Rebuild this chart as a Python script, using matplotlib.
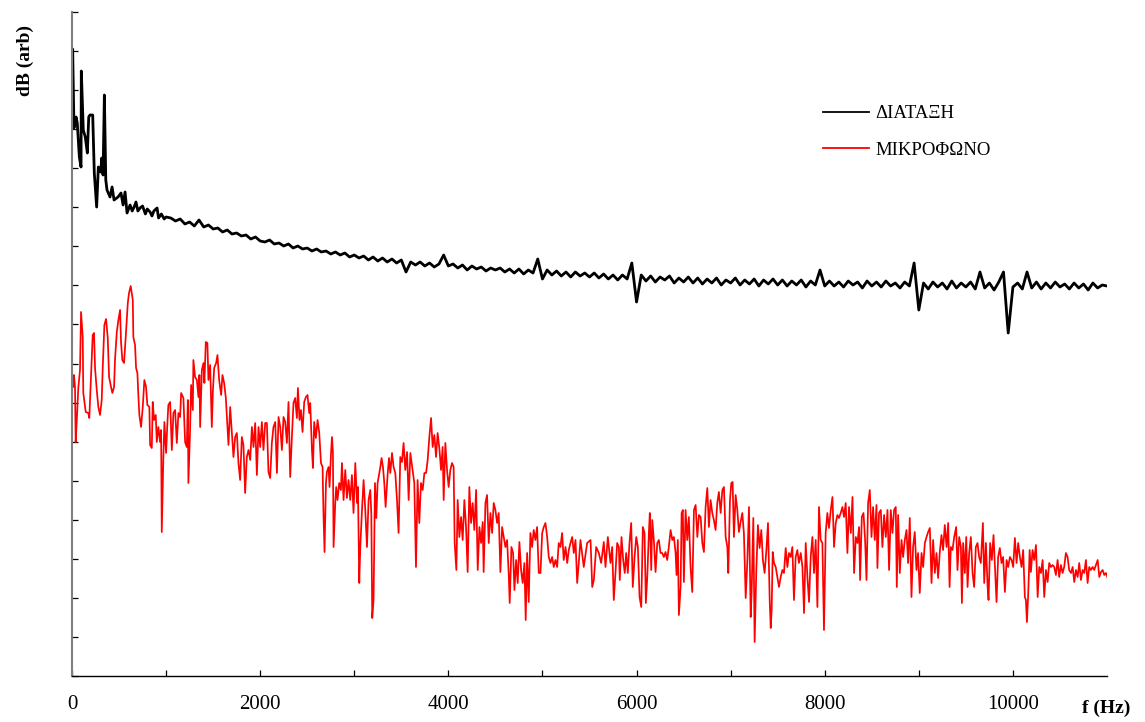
import matplotlib
matplotlib.use("Agg")
import matplotlib.pyplot as plt
import numpy as np

# ---------------- data ----------------
legend_labels = ["ΔΙΑΤΑΞΗ", "ΜΙΚΡΟΦΩΝΟ"]
x_ticks = [0, 2000, 4000, 6000, 8000, 10000]
x_label = "f (Hz)"
y_label = "dB (arb)"

black_freq_low = [0, 7, 14, 21, 43, 56, 67, 78, 96, 99, 120, 141, 163, 178, 191,
                  220, 237, 262, 280, 305, 316, 330, 344, 359, 372, 404, 426, 447,
                  489, 521, 543, 564, 585, 617, 640, 660, 680, 700, 723, 750, 780,
                  800, 830, 850, 870, 904, 920, 950, 980, 1000]
black_db_low = [586, 627, 586, 548, 559, 553, 536, 519, 509, 605, 546, 539, 523, 559, 561,
                561, 503, 469, 509, 504, 518, 501, 581, 496, 486, 479, 489, 476,
                479, 483, 471, 484, 463, 471, 465, 469, 474, 465, 468, 470, 462,
                467, 464, 460, 465, 468, 458, 462, 457, 459]
black_freq_high = list(range(1050, 11001, 50))
black_db_high = [
    458, 455, 457, 452, 454, 450, 456, 449, 451, 447,
    448, 444, 446, 442, 443, 440, 441, 437, 439, 435,
    434, 436, 432, 433, 430, 432, 428, 430, 427, 428,
    425, 427, 424, 425, 422, 424, 421, 423, 419, 421,
    418, 420, 416, 419, 415, 418, 414, 417, 413, 416,
    404, 414, 411, 414, 410, 413, 409, 412, 421, 410,
    412, 408, 411, 406, 410, 407, 409, 405, 408, 406,
    408, 404, 407, 403, 407, 402, 406, 403, 417, 397,
    406, 401, 405, 400, 404, 399, 404, 400, 403, 399,
    403, 398, 402, 397, 401, 396, 401, 397, 413, 374,
    401, 395, 400, 394, 399, 396, 400, 393, 398, 394,
    399, 393, 398, 392, 397, 393, 398, 391, 396, 393,
    398, 391, 396, 392, 397, 390, 396, 392, 397, 391,
    396, 390, 395, 391, 396, 389, 395, 391, 406, 390,
    395, 390, 394, 389, 395, 391, 394, 388, 395, 390,
    394, 389, 395, 390, 393, 388, 394, 390, 413, 366,
    393, 387, 394, 389, 393, 387, 395, 388, 393, 389,
    394, 387, 404, 388, 393, 386, 394, 404, 343, 389,
    393, 387, 404, 388, 394, 387, 393, 388, 394, 389,
    392, 387, 393, 388, 392, 386, 393, 388, 391, 390]

red_freq = [
    0, 14, 21, 32, 39, 50, 67, 85, 96, 114, 120, 146, 173, 184, 202, 220, 234, 245, 263, 280,
    298, 316, 327, 344, 362, 380, 394, 415, 429, 447, 457, 476, 493, 511, 521, 535, 553, 571, 593, 606,
    624, 646, 652, 670, 681, 695, 705, 716, 734, 752, 769, 787, 801, 822, 830, 848, 858, 872, 890, 901,
    918, 936, 947, 954, 971, 982, 1000, 1014, 1024, 1043, 1061, 1078, 1096, 1114, 1131, 1149, 1160, 1184, 1202, 1220,
    1231, 1237, 1255, 1266, 1284, 1290, 1308, 1327, 1344, 1354, 1362, 1380, 1397, 1407, 1422, 1439, 1450, 1468, 1486, 1497,
    1511, 1532, 1546, 1564, 1585, 1599, 1617, 1635, 1646, 1663, 1681, 1699, 1716, 1734, 1752, 1769, 1787, 1805, 1822, 1840,
    1858, 1876, 1894, 1912, 1929, 1947, 1965, 1982, 2000, 2018, 2035, 2053, 2071, 2088, 2106, 2124, 2141, 2160, 2178, 2195,
    2213, 2231, 2248, 2266, 2284, 2301, 2319, 2337, 2354, 2372, 2390, 2401, 2418, 2433, 2450, 2468, 2486, 2503, 2521, 2532,
    2550, 2561, 2574, 2592, 2610, 2628, 2646, 2663, 2673, 2684, 2699, 2709, 2727, 2737, 2752, 2763, 2773, 2780, 2798, 2808,
    2822, 2840, 2858, 2869, 2886, 2904, 2922, 2939, 2957, 2975, 2992, 3011, 3029, 3039, 3053, 3064, 3082, 3099, 3117, 3135,
    3152, 3170, 3181, 3191, 3205, 3220, 3234, 3248, 3263, 3277, 3290, 3305, 3319, 3333, 3354, 3369, 3383, 3401, 3418, 3436,
    3454, 3471, 3489, 3507, 3524, 3542, 3561, 3578, 3596, 3620, 3638, 3656, 3673, 3691, 3709, 3727, 3745, 3763, 3780, 3798,
    3816, 3833, 3851, 3869, 3886, 3904, 3922, 3939, 3950, 3968, 3986, 4003, 4021, 4039, 4056, 4067, 4085, 4099, 4117, 4135,
    4152, 4170, 4188, 4205, 4223, 4241, 4258, 4276, 4295, 4312, 4330, 4348, 4365, 4375, 4394, 4411, 4429, 4447, 4465, 4482,
    4500, 4518, 4535, 4553, 4571, 4588, 4606, 4624, 4641, 4652, 4670, 4688, 4702, 4720, 4737, 4755, 4773, 4790, 4808, 4822,
    4837, 4854, 4872, 4890, 4907, 4925, 4943, 4961, 4979, 4997, 5014, 5032, 5050, 5067, 5085, 5103, 5120, 5138, 5156, 5173,
    5191, 5209, 5226, 5245, 5263, 5280, 5298, 5316, 5333, 5351, 5369, 5386, 5404, 5439, 5475, 5511, 5529, 5546, 5571, 5599,
    5624, 5652, 5670, 5695, 5723, 5741, 5758, 5776, 5794, 5812, 5822, 5840, 5858, 5875, 5890, 5907, 5925, 5943, 5960, 5979,
    5997, 6014, 6032, 6050, 6067, 6085, 6099, 6114, 6131, 6141, 6156, 6167, 6184, 6202, 6220, 6237, 6255, 6273, 6290, 6308,
    6326, 6343, 6362, 6380, 6397, 6415, 6425, 6439, 6450, 6468, 6479, 6492, 6503, 6521, 6539, 6556, 6574, 6592, 6610, 6628,
    6646, 6663, 6681, 6699, 6716, 6734, 6752, 6769, 6787, 6805, 6822, 6840, 6858, 6875, 6894, 6912, 6929, 6947, 6965, 6975,
    6993, 7007, 7021, 7035, 7053, 7071, 7088, 7106, 7124, 7141, 7160, 7178, 7195, 7213, 7223, 7241, 7255, 7273, 7290, 7308,
    7326, 7343, 7361, 7380, 7397, 7415, 7426, 7436, 7447, 7461, 7479, 7497, 7514, 7532, 7550, 7567, 7585, 7603, 7620, 7638,
    7656, 7673, 7691, 7709, 7726, 7745, 7763, 7780, 7798, 7816, 7833, 7851, 7869, 7886, 7904, 7922, 7939, 7957, 7975, 7992,
    8010, 8028, 8045, 8064, 8082, 8099, 8117, 8135, 8152, 8170, 8188, 8205, 8223, 8241, 8258, 8277, 8295, 8312, 8330, 8348,
    8365, 8376, 8394, 8412, 8429, 8444, 8461, 8479, 8497, 8514, 8532, 8550, 8560, 8577, 8596, 8613, 8631, 8649, 8667, 8684,
    8702, 8720, 8737, 8755, 8766, 8780, 8798, 8816, 8833, 8851, 8869, 8886, 8904, 8922, 8939, 8957, 8975, 8992, 9010, 9029,
    9046, 9064, 9082, 9099, 9117, 9135, 9152, 9170, 9188, 9205, 9223, 9241, 9258, 9276, 9295, 9312, 9327, 9340, 9358, 9376,
    9397, 9411, 9429, 9447, 9458, 9471, 9489, 9504, 9518, 9535, 9553, 9571, 9588, 9606, 9624, 9641, 9659, 9681, 9695, 9713,
    9731, 9741, 9758, 9776, 9794, 9811, 9826, 9843, 9861, 9879, 9896, 9915, 9933, 9950, 9968, 9986, 10003, 10021, 10039, 10056,
    10074, 10092, 10109, 10127, 10138, 10149, 10163, 10178, 10191, 10209, 10226, 10245, 10263, 10280, 10298, 10316, 10333, 10351, 10369, 10386,
    10404, 10422, 10439, 10457, 10475, 10492, 10510, 10528, 10545, 10563, 10581, 10598, 10617, 10635, 10652, 10670, 10688, 10705, 10723, 10741,
    10758, 10776, 10794, 10811, 10829, 10847, 10864, 10883, 10901, 10918, 10936, 10954, 10971, 10989, 11007]
red_db = [
    304, 289, 301, 289, 234, 254, 288, 306, 364, 339, 283, 264, 263, 258, 299, 341, 343, 308, 286, 269,
    261, 276, 309, 351, 357, 338, 299, 289, 283, 289, 316, 344, 356, 366, 334, 316, 313, 339, 373, 383,
    390, 376, 339, 331, 308, 303, 281, 261, 249, 269, 296, 289, 271, 269, 231, 228, 274, 256, 261, 234,
    249, 234, 246, 144, 219, 254, 223, 253, 271, 274, 226, 263, 266, 233, 263, 259, 283, 278, 234, 229,
    276, 193, 246, 291, 266, 316, 299, 296, 279, 301, 249, 306, 313, 293, 334, 333, 296, 311, 249, 284,
    308, 313, 321, 296, 281, 301, 293, 278, 259, 231, 269, 243, 219, 239, 243, 213, 196, 239, 231, 183,
    219, 226, 216, 249, 229, 253, 201, 249, 229, 254, 226, 253, 253, 204, 198, 233, 249, 254, 203, 259,
    249, 226, 259, 254, 233, 274, 199, 239, 273, 278, 258, 288, 256, 266, 244, 274, 279, 281, 263, 273,
    226, 208, 254, 238, 256, 243, 213, 209, 161, 124, 193, 204, 209, 189, 221, 239, 224, 129, 173, 189,
    176, 193, 186, 213, 176, 206, 178, 196, 176, 201, 163, 213, 173, 189, 93, 129, 166, 196, 166, 129,
    176, 186, 163, 58, 76, 193, 158, 193, 201, 209, 218, 209, 193, 169, 201, 218, 203, 223, 209, 203,
    176, 143, 219, 214, 233, 206, 224, 176, 223, 206, 193, 109, 196, 153, 193, 186, 203, 203, 216, 239,
    258, 229, 241, 219, 243, 228, 206, 229, 176, 233, 206, 189, 206, 213, 209, 133, 106, 176, 139, 159,
    136, 176, 149, 104, 189, 153, 173, 146, 186, 106, 149, 133, 154, 104, 173, 181, 133, 163, 143, 173,
    166, 153, 163, 104, 149, 139, 129, 136, 103, 73, 129, 123, 86, 116, 93, 134, 106, 93, 113, 56,
    123, 74, 143, 129, 146, 136, 149, 103, 103, 143, 149, 153, 139, 119, 113, 119, 109, 116, 109, 133,
    129, 143, 116, 129, 113, 126, 133, 139, 123, 136, 93, 113, 136, 109, 133, 136, 89, 96, 129, 123,
    113, 134, 109, 139, 113, 129, 76, 103, 133, 129, 96, 139, 116, 103, 123, 103, 133, 153, 89, 119,
    139, 129, 79, 69, 149, 143, 73, 99, 143, 163, 106, 156, 136, 104, 133, 136, 123, 123, 119, 124,
    116, 129, 146, 136, 139, 123, 101, 136, 61, 89, 163, 166, 94, 166, 136, 159, 109, 84, 166, 171,
    139, 161, 159, 133, 124, 169, 188, 149, 176, 163, 156, 146, 173, 184, 163, 186, 189, 139, 129, 103,
    176, 193, 194, 139, 181, 166, 144, 154, 163, 143, 78, 116, 169, 59, 83, 158, 34, 106, 151, 128,
    146, 116, 103, 126, 153, 76, 48, 66, 124, 113, 109, 99, 89, 99, 106, 103, 128, 109, 123, 119,
    129, 76, 119, 126, 113, 123, 109, 63, 133, 99, 74, 119, 139, 103, 136, 69, 169, 136, 133, 46,
    143, 163, 148, 166, 179, 129, 153, 161, 158, 163, 169, 159, 173, 123, 169, 143, 179, 103, 139, 133,
    149, 96, 159, 163, 136, 96, 173, 186, 139, 169, 136, 171, 108, 163, 166, 129, 161, 139, 166, 106,
    166, 143, 166, 169, 89, 161, 103, 136, 119, 136, 146, 113, 158, 79, 129, 144, 106, 123, 83, 123,
    109, 133, 139, 144, 148, 93, 136, 103, 123, 98, 124, 141, 126, 151, 129, 153, 89, 129, 126, 139,
    149, 106, 139, 129, 73, 133, 103, 139, 89, 123, 139, 103, 89, 129, 133, 119, 113, 153, 93, 133,
    89, 76, 133, 116, 141, 106, 74, 119, 128, 113, 119, 84, 116, 109, 119, 116, 109, 138, 113, 133,
    119, 109, 126, 79, 76, 54, 83, 126, 104, 126, 116, 131, 79, 109, 103, 116, 79, 106, 94, 113,
    109, 111, 109, 101, 116, 99, 111, 103, 109, 123, 119, 106, 103, 109, 94, 106, 99, 113, 96, 106,
    103, 116, 93, 109, 106, 109, 106, 111, 116, 99, 104, 106, 101, 103, 98]

black_freq = black_freq_low + black_freq_high
black_db = black_db_low + black_db_high

# ---------------- figure ----------------
plt.rcParams['font.family'] = ['Liberation Serif', 'DejaVu Serif']

fig = plt.figure(figsize=(11.45, 7.22), dpi=100)
ax = fig.add_axes([72 / 1145, 46 / 722, 1035 / 1145, 664 / 722])

ax.plot(black_freq, black_db, color='black', lw=2.0, label=legend_labels[0])
ax.plot(red_freq, red_db, color='#ff0000', lw=1.25, label=legend_labels[1])

ax.set_xlim(0, 11000)
ax.set_ylim(0, 664)

ax.set_xticks(x_ticks)
ax.set_xticklabels([str(t) for t in x_ticks])
ax.set_xticks(list(range(1000, 11000, 2000)), minor=True)
ax.set_yticks(np.linspace(0, 664, 18))
ax.set_yticklabels([])

ax.tick_params(axis='x', which='both', direction='in', length=4, width=0.9,
               labelsize=15, pad=14, colors='black')
ax.tick_params(axis='y', which='both', direction='in', length=4, width=0.9, colors='black')

for s in ['top', 'right']:
    ax.spines[s].set_visible(False)
ax.spines['left'].set_color('#808080')
ax.spines['left'].set_linewidth(1.5)
ax.spines['bottom'].set_color('black')
ax.spines['bottom'].set_linewidth(1.0)

leg = ax.legend(loc='upper left', bbox_to_anchor=(823 / 1145, 1 - 105 / 722),
                bbox_transform=fig.transFigure, frameon=False, fontsize=13.5,
                handlelength=2.45, handletextpad=0.35, labelspacing=1.05,
                borderpad=0, borderaxespad=0)
for line in leg.get_lines():
    line.set_linewidth(1.3)

fig.text(25 / 1145, 1 - 60 / 722, y_label, rotation=90, ha='center', va='center',
         fontsize=14, fontweight='bold')
fig.text(1106 / 1145, 1 - 708 / 722, x_label, ha='center', va='center',
         fontsize=14, fontweight='bold')

fig.savefig('out.png', dpi=100)
